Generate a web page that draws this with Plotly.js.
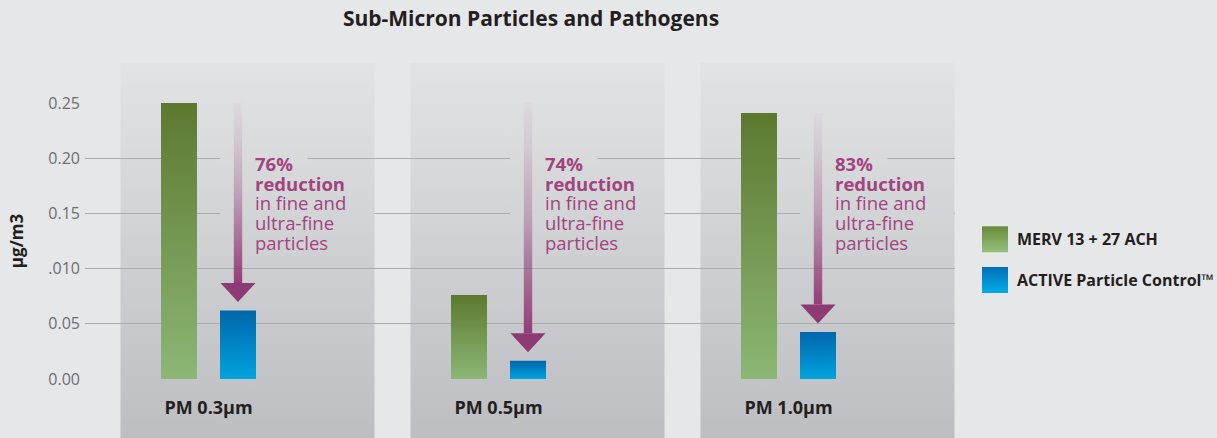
<!DOCTYPE html>
<html><head><meta charset="utf-8">
<script src="https://cdn.plot.ly/plotly-3.0.1.min.js"></script>
<style>html,body{margin:0;padding:0;background:#e6e7e9;}#chart{width:1217px;height:438px;}</style>
</head><body><div id="chart"></div>
<script>
// ---- data ----
const categories = ['PM 0.3µm', 'PM 0.5µm', 'PM 1.0µm'];
const seriesNames = ['MERV 13 + 27 ACH', 'ACTIVE Particle Control™'];
const mervValues = [0.250, 0.076, 0.241];
const activeValues = [0.062, 0.0165, 0.0425];
const reductionLabels = ['76%', '74%', '83%'];
const reductionLines = ['reduction', 'in fine and', 'ultra-fine', 'particles'];
const arrowStart = [0.25, 0.25, 0.241];
const yTickVals = [0, 0.05, 0.10, 0.15, 0.20, 0.25];
const yTickText = ['0.00', '0.05', '.010', '0.15', '0.20', '0.25'];

// ---- layout constants (pixels) ----
const W = 1217, H = 438;
const M = {l: 85, r: 262, t: 103, b: 59};
const plotW = W - M.l - M.r, plotH = H - M.t - M.b;
const PXX = 290;                 // px per category
const PXY = plotH / 0.25;        // px per y unit
const xRange = [-123.5 / PXX, 2 + 166.5 / PXX];
const px2paperX = px => (px - M.l) / plotW;
const px2paperY = py => (H - M.b - py) / plotH;
const d2paperX = v => (v - xRange[0]) / (xRange[1] - xRange[0]);
const idx = categories.map((c, i) => i);

const panelTop = 63, panelBot = 438;
const panelC0 = [226, 227, 229], panelC1 = [189, 190, 193];
function panelColorAt(py) {
  const t = (py - panelTop) / (panelBot - panelTop);
  const c = panelC0.map((v, k) => Math.round(v + (panelC1[k] - v) * t));
  return 'rgb(' + c.join(',') + ')';
}

const barW = 36 / PXX;
const traces = [
  {type: 'bar', x: idx, y: mervValues, name: seriesNames[0], width: barW, offset: -47.5 / PXX,
   marker: {color: '#759a4f'}, showlegend: false, hoverinfo: 'y'},
  {type: 'bar', x: idx, y: activeValues, name: seriesNames[1], width: barW, offset: 11.5 / PXX,
   marker: {color: '#0085c6'}, showlegend: false, hoverinfo: 'y'}
];

// arrows (shaft with fading gradient, solid head)
const shaftHW = 4.2 / PXX, headHW = 17.5 / PXX;
const headH = 19 / PXY, gap = 8.5 / PXY;
idx.forEach(i => {
  const cx = i + 29.5 / PXX;
  const tip = activeValues[i] + gap;
  const headTop = tip + headH;
  traces.push({
    type: 'scatter', mode: 'none', fill: 'toself', hoverinfo: 'skip', showlegend: false,
    x: [cx - shaftHW, cx + shaftHW, cx + shaftHW, cx - shaftHW, cx - shaftHW],
    y: [headTop, headTop, arrowStart[i], arrowStart[i], headTop],
    fillgradient: {type: 'vertical', colorscale: [
      [0, 'rgba(147,62,120,1)'], [0.2, 'rgba(147,62,120,0.72)'],
      [0.5, 'rgba(147,62,120,0.34)'], [0.8, 'rgba(147,62,120,0.12)'], [1, 'rgba(147,62,120,0.03)']]}
  });
  traces.push({
    type: 'scatter', mode: 'none', fill: 'toself', hoverinfo: 'skip', showlegend: false,
    x: [cx - headHW, cx + headHW, cx, cx - headHW],
    y: [headTop, headTop, tip, headTop],
    fillcolor: '#8e3a74'
  });
});

// shapes
const shapes = [];
idx.forEach(i => {
  shapes.push({type: 'rect', layer: 'below', xref: 'paper', yref: 'paper',
    x0: d2paperX(i - 88 / PXX), x1: d2paperX(i + 166 / PXX),
    y0: px2paperY(panelBot), y1: px2paperY(panelTop),
    line: {width: 0}, fillcolor: '#d2d3d5'});
});
// masks hiding gridlines behind the text
idx.forEach(i => {
  const y20 = H - M.b - 0.20 * PXY, y15 = H - M.b - 0.15 * PXY;
  shapes.push({type: 'rect', layer: 'between', xref: 'x', yref: 'y',
    x0: i + 11.5 / PXX, x1: i + 99 / PXX, y0: 0.20 - 3 / PXY, y1: 0.20 + 3 / PXY,
    line: {width: 0}, fillcolor: panelColorAt(y20)});
  shapes.push({type: 'rect', layer: 'between', xref: 'x', yref: 'y',
    x0: i + 11.5 / PXX, x1: i + 166 / PXX, y0: 0.15 - 3 / PXY, y1: 0.15 + 3 / PXY,
    line: {width: 0}, fillcolor: panelColorAt(y15)});
});
// legend swatches
const legendRows = [239.3, 280];
legendRows.forEach((cy, k) => {
  shapes.push({type: 'rect', layer: 'above', xref: 'paper', yref: 'paper',
    x0: px2paperX(982), x1: px2paperX(1008), y0: px2paperY(cy + 13), y1: px2paperY(cy - 13),
    line: {width: 0}, fillcolor: k === 0 ? '#7fa060' : '#0090d0'});
});

// annotations
const annotations = [];
const purple = '#a2437f';
const lineY = [163.5, 183.2, 202.8, 222.4, 242];
idx.forEach(i => {
  const texts = [reductionLabels[i]].concat(reductionLines);
  texts.forEach((t, j) => {
    annotations.push({xref: 'x', yref: 'paper', x: i + 44.5 / PXX, y: px2paperY(lineY[j]),
      xanchor: 'left', yanchor: 'middle', showarrow: false, text: t,
      font: {size: 18.5, color: purple, weight: j < 2 ? 700 : 400}});
  });
});
seriesNames.forEach((n, k) => {
  annotations.push({xref: 'paper', yref: 'paper', x: px2paperX(1015), y: px2paperY(legendRows[k]),
    xanchor: 'left', yanchor: 'middle', showarrow: false, text: n,
    font: {size: 16, color: '#231f20', weight: 700}});
});

const layout = {
  width: W, height: H,
  margin: M,
  paper_bgcolor: '#e6e7e9', plot_bgcolor: 'rgba(0,0,0,0)',
  font: {family: '"Open Sans", sans-serif', color: '#231f20'},
  title: {text: 'Sub-Micron Particles and Pathogens', xref: 'paper', x: px2paperX(531), xanchor: 'center',
    yref: 'container', y: 1 - 19 / H, yanchor: 'middle',
    font: {size: 21, color: '#231f20', weight: 700}},
  barmode: 'overlay',
  showlegend: false,
  xaxis: {type: 'linear', range: xRange, tickvals: idx, ticktext: categories,
    showgrid: false, zeroline: false, showline: false, ticks: '', automargin: false,
    ticklabelstandoff: 16, tickfont: {size: 18, color: '#231f20', weight: 700}},
  yaxis: {range: [0, 0.25], tickvals: yTickVals, ticktext: yTickText, automargin: false,
    showgrid: true, gridcolor: '#abacaf', gridwidth: 1, zeroline: false, showline: false, ticks: '',
    ticklabelstandoff: 4, tickfont: {size: 16, color: '#6d6e71'},
    title: {text: 'µg/m3', standoff: 20, font: {size: 17, color: '#231f20', weight: 700}}},
  shapes: shapes,
  annotations: annotations
};

function addGradients(gd) {
  const ns = 'http://www.w3.org/2000/svg';
  const svg = gd.querySelector('svg.main-svg');
  let defs = svg.querySelector('defs');
  if (!defs) { defs = document.createElementNS(ns, 'defs'); svg.insertBefore(defs, svg.firstChild); }
  function grad(id, stops) {
    const g = document.createElementNS(ns, 'linearGradient');
    g.setAttribute('id', id);
    g.setAttribute('x1', '0'); g.setAttribute('y1', '0'); g.setAttribute('x2', '0'); g.setAttribute('y2', '1');
    stops.forEach(s => {
      const st = document.createElementNS(ns, 'stop');
      st.setAttribute('offset', s[0]); st.setAttribute('stop-color', s[1]);
      g.appendChild(st);
    });
    defs.appendChild(g);
  }
  grad('gGreen', [[0, '#5d7930'], [1, '#8cb775']]);
  grad('gBlue', [[0, '#0067ab'], [1, '#00a3de']]);
  grad('gGreenL', [[0, '#6a8a39'], [1, '#96c07e']]);
  grad('gBlueL', [[0, '#0070b8'], [1, '#00ade6']]);
  grad('gPanel', [[0, 'rgb(' + panelC0.join(',') + ')'], [1, 'rgb(' + panelC1.join(',') + ')']]);
  const barTraces = gd.querySelectorAll('.barlayer .trace');
  barTraces.forEach((t, i) => {
    t.querySelectorAll('path').forEach(p => { p.style.fill = i === 0 ? 'url(#gGreen)' : 'url(#gBlue)'; });
  });
  gd.querySelectorAll('.shapelayer path[data-index]').forEach(p => {
    const k = +p.getAttribute('data-index');
    if (k < 3) p.style.fill = 'url(#gPanel)';
    else if (k === 9) p.style.fill = 'url(#gGreenL)';
    else if (k === 10) p.style.fill = 'url(#gBlueL)';
  });
}

Plotly.newPlot('chart', traces, layout, {staticPlot: true, displayModeBar: false}).then(addGradients);
</script>
</body></html>
